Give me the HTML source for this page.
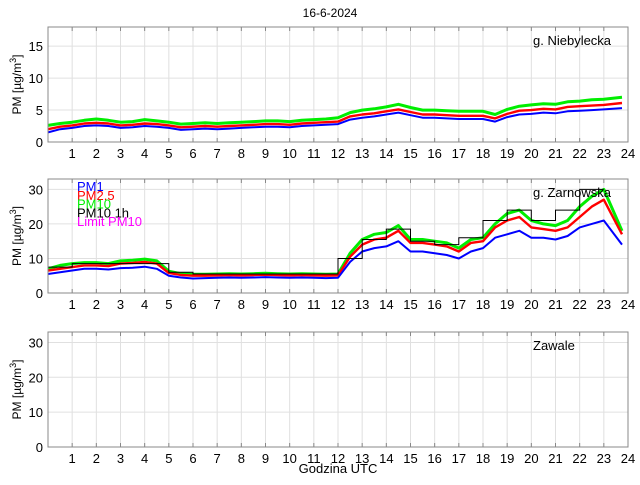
<!DOCTYPE html>
<html><head><meta charset="utf-8"><style>
body{margin:0;background:#fff;}
svg{font-family:"Liberation Sans",sans-serif;}
</style></head><body>
<svg id="chart" width="640" height="480" xmlns="http://www.w3.org/2000/svg"></svg>
<script>
const hourTicks=[1,2,3,4,5,6,7,8,9,10,11,12,13,14,15,16,17,18,19,20,21,22,23,24];
const times=[0,0.5,1,1.5,2,2.5,3,3.5,4,4.5,5,5.5,6,6.5,7,7.5,8,8.5,9,9.5,10,10.5,11,11.5,12,12.5,13,13.5,14,14.5,15,15.5,16,16.5,17,17.5,18,18.5,19,19.5,20,20.5,21,21.5,22,22.5,23,23.75];
const p1pm1=[1.5,2,2.2,2.5,2.6,2.5,2.2,2.3,2.5,2.4,2.2,1.9,2.0,2.1,2.0,2.1,2.2,2.3,2.4,2.4,2.3,2.5,2.6,2.7,2.8,3.5,3.8,4.0,4.3,4.6,4.2,3.8,3.8,3.7,3.6,3.6,3.6,3.2,3.9,4.3,4.4,4.6,4.5,4.8,4.9,5.0,5.1,5.3];
const p1pm25=[2,2.4,2.6,2.9,3.0,2.9,2.6,2.7,2.9,2.8,2.6,2.3,2.4,2.5,2.4,2.5,2.6,2.7,2.8,2.8,2.7,2.9,3.0,3.1,3.2,4.0,4.3,4.5,4.8,5.1,4.7,4.3,4.3,4.2,4.1,4.1,4.1,3.7,4.4,4.9,5.0,5.2,5.1,5.5,5.6,5.7,5.8,6.1];
const p1pm10=[2.6,2.9,3.1,3.4,3.6,3.4,3.1,3.2,3.5,3.3,3.1,2.8,2.9,3.0,2.9,3.0,3.1,3.2,3.3,3.3,3.2,3.4,3.5,3.6,3.8,4.6,5.0,5.2,5.5,5.9,5.4,5.0,5.0,4.9,4.8,4.8,4.8,4.3,5.1,5.6,5.8,6.0,5.9,6.3,6.4,6.6,6.7,7.0];
const p2pm1=[5.5,6,6.5,7,7,6.8,7.2,7.3,7.6,7,5,4.5,4.2,4.3,4.4,4.5,4.4,4.5,4.6,4.5,4.4,4.5,4.4,4.3,4.4,9,12,13,13.5,15,12,12,11.5,11,10,12,13,16,17,18,16,16,15.5,16.5,19,20,21,14];
const p2pm25=[6.5,7,7.5,8,8,7.8,8.5,8.7,9,8.5,5.8,5.2,5,5,5.1,5.2,5.1,5.2,5.3,5.2,5.1,5.2,5.1,5,5.1,10.5,14,15.5,16,18,14.5,14.5,14,13.5,12,14.5,15,19,21,22,19,18.5,18,19,22,25,27,17];
const p2pm10=[7,8,8.5,8.8,8.8,8.5,9.3,9.5,9.8,9.3,6.3,5.6,5.4,5.4,5.5,5.6,5.5,5.6,5.7,5.6,5.5,5.6,5.5,5.4,5.5,11.5,15.5,17,17.5,19.5,15.5,15.5,15,14.5,13,15.5,16,20,23,24,21,20,19.5,21,25,28,30,18];
const hourly=[7.5,8.5,8.5,8.5,8.5,6,5.5,5.5,5.5,5.5,5.5,5.5,10,15.5,18.5,15,14,16,21,24,21,24,30];
const p1ticks=[0,5,10,15];
const p2ticks=[0,10,20,30];

const svg=document.getElementById('chart');
const NS='http://www.w3.org/2000/svg';
const X0=48,X1=628;
function xs(t){return X0+(X1-X0)*t/24;}
function mk(tag,attrs,parent){const e=document.createElementNS(NS,tag);for(const k in attrs)e.setAttribute(k,attrs[k]);(parent||svg).appendChild(e);return e;}
function txt(s,x,y,opts,parent){const e=mk('text',Object.assign({x:x,y:y,'font-size':13,fill:'#000'},opts||{}),parent);e.textContent=s;return e;}

const title=txt('16-6-2024',330,17,{'text-anchor':'middle','font-size':12});



const panels=[
 {name:'niebylecka',top:27,bot:142,ymax:18,ticks:p1ticks,label:'g. Niebylecka',series:[[p1pm10,'#00ee00',3],[p1pm25,'#ff0000',2.4],[p1pm1,'#0000ff',2]]},
 {name:'zarnowska',top:179,bot:293,ymax:33,ticks:p2ticks,label:'g. Zarnowska',series:[[p2pm10,'#00ee00',3],[p2pm25,'#ff0000',2.4],[p2pm1,'#0000ff',2]],step:hourly,legend:true},
 {name:'zawale',top:332,bot:447,ymax:33,ticks:p2ticks,label:'Zawale',series:[]}
];
panels.forEach(p=>{
 const g=mk('g',{});
 
 
 const ys=v=>p.bot-(p.bot-p.top)*v/p.ymax;
 hourTicks.forEach(h=>{
   const gl=mk('line',{x1:xs(h),x2:xs(h),y1:p.top,y2:p.bot,stroke:'#e0e0e0','stroke-width':1},g);
   
   
   mk('line',{x1:xs(h),x2:xs(h),y1:p.bot,y2:p.bot-4,stroke:'#888'},g);
   mk('line',{x1:xs(h),x2:xs(h),y1:p.top,y2:p.top+4,stroke:'#888'},g);
   const tl=txt(String(h),xs(h),p.bot+16,{'text-anchor':'middle'},g);
   
   
 });
 p.ticks.forEach(v=>{
   if(v>0){const gl=mk('line',{x1:X0,x2:X1,y1:ys(v),y2:ys(v),stroke:'#e0e0e0'},g);
   
   }
   const tl=txt(String(v),X0-5,ys(v)+5,{'text-anchor':'end'},g);
   
   
 });
 p.series.forEach(s=>{
   const d=s[0].map((v,i)=>(i?'L':'M')+xs(times[i]).toFixed(1)+','+ys(v).toFixed(1)).join('');
   const pa=mk('path',{d:d,fill:'none',stroke:s[1],'stroke-width':s[2],'stroke-linejoin':'round'},g);
   
   
 });
 if(p.step){
   let d='';
   p.step.forEach((v,i)=>{d+=(i?'L':'M')+xs(i).toFixed(1)+','+ys(v).toFixed(1)+'L'+xs(i+1).toFixed(1)+','+ys(v).toFixed(1);});
   const pa=mk('path',{d:d,fill:'none',stroke:'#000','stroke-width':1},g);
   
   
 }
 const fr=mk('rect',{x:X0,y:p.top,width:X1-X0,height:p.bot-p.top,fill:'none',stroke:'#888'},g);
 
 
 const lb=txt(p.label,533,p.top+18,{},g);
 
 
 const yl=mk('text',{x:0,y:0,'font-size':12,'text-anchor':'middle',transform:'translate(21,'+((p.top+p.bot)/2)+') rotate(-90)'},g);
 yl.innerHTML='PM [µg/m<tspan dy="-5" font-size="9">3</tspan><tspan dy="5">]</tspan>';
 
 
 if(p.legend){
   const L=[['PM1','#0000ff'],['PM2.5','#ff0000'],['PM10','#00ee00'],['PM10 1h','#000'],['Limit PM10','#ff00ff']];
   L.forEach((l,i)=>{const t=txt(l[0],77,p.top+12+i*8.8,{fill:l[1]},g);
   
   });
 }
});
const xt=txt('Godzina UTC',338,473,{'text-anchor':'middle'});


</script>
</body></html>
